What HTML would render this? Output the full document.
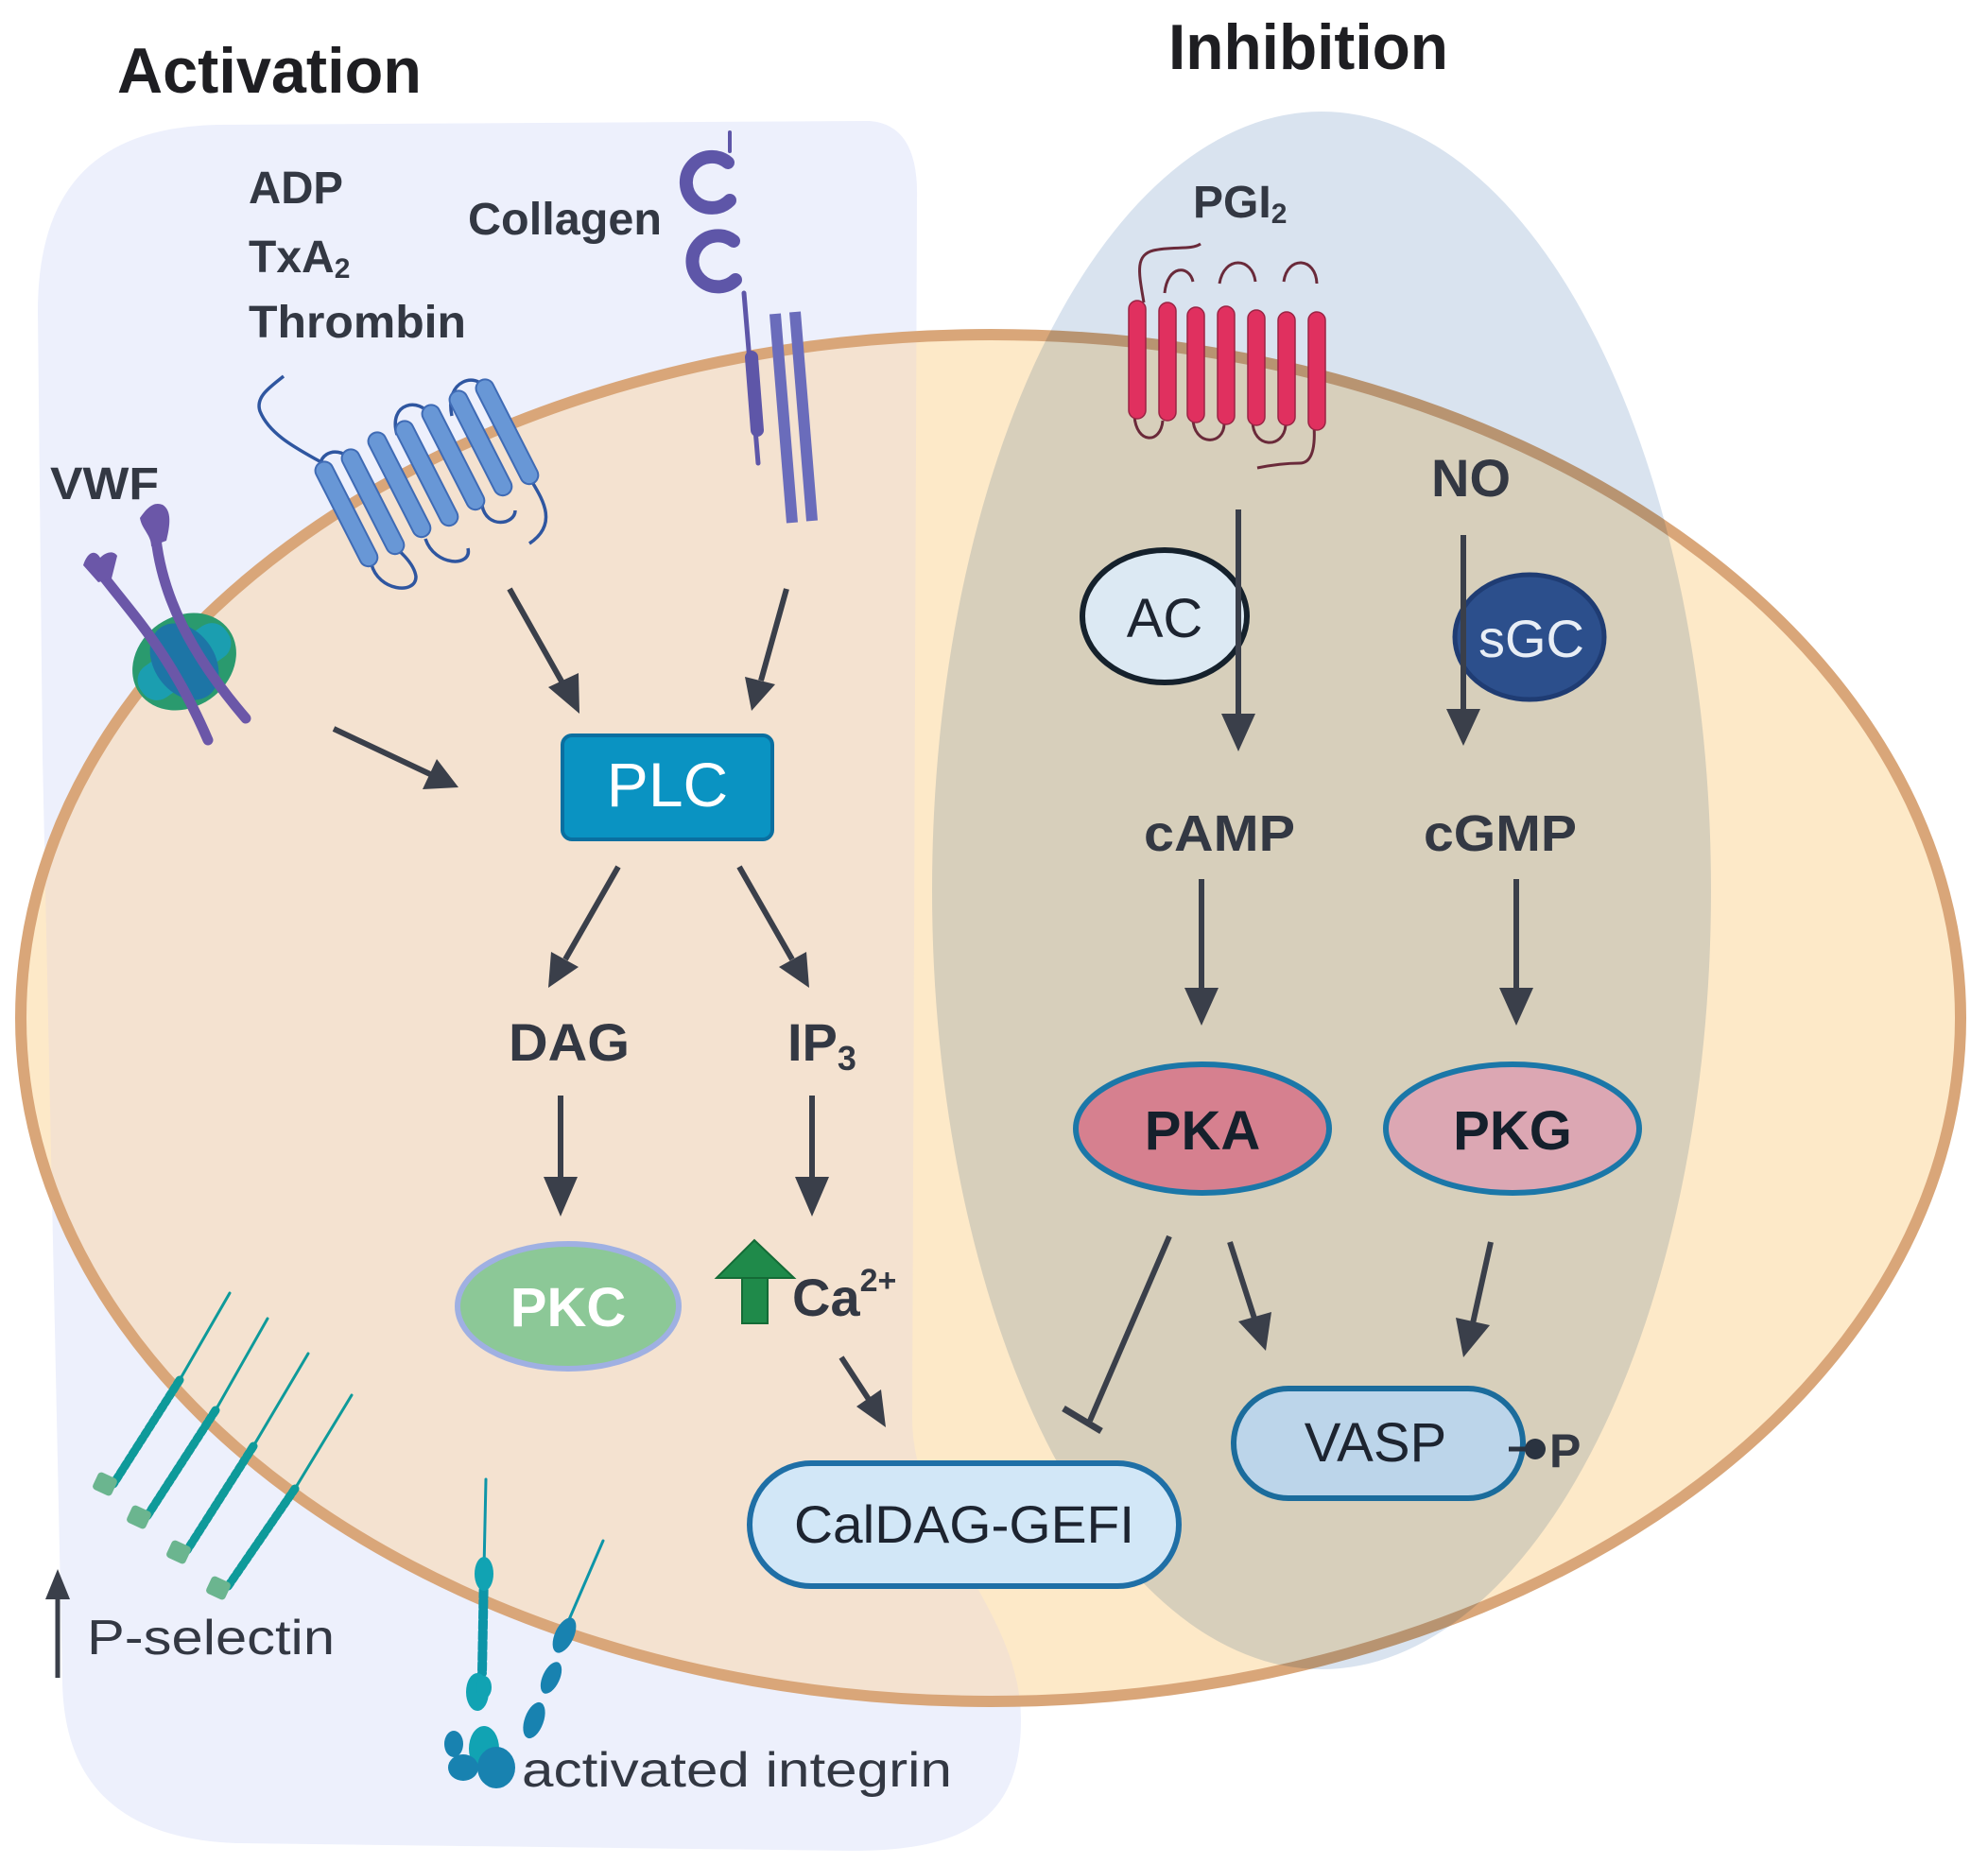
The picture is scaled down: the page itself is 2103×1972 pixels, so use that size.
<!DOCTYPE html>
<html><head><meta charset="utf-8"><style>
html,body{margin:0;padding:0;background:#fff}
svg{display:block}
text{font-family:"Liberation Sans",Arial,sans-serif}
</style></head><body>
<svg width="2103" height="1972" viewBox="0 0 2103 1972" xmlns="http://www.w3.org/2000/svg">
<defs>
<clipPath id="cellclip"><ellipse cx="1048" cy="1077" rx="1026" ry="723"/></clipPath>
</defs>
<rect width="2103" height="1972" fill="#fff"/>
<path d="M40,330 C40,190 110,135 230,132 L920,128 Q972,132 970,210 L965,1500 C965,1620 1080,1700 1080,1820 C1080,1925 1020,1958 900,1958 L250,1950 C120,1945 68,1880 66,1780 L45,800 Z" fill="#edf0fc"/>
<ellipse cx="1048" cy="1077" rx="1026" ry="723" fill="#fde9c8"/>
<path d="M40,330 C40,190 110,135 230,132 L920,128 Q972,132 970,210 L965,1500 C965,1620 1080,1700 1080,1820 C1080,1925 1020,1958 900,1958 L250,1950 C120,1945 68,1880 66,1780 L45,800 Z" fill="#f4e2d0" clip-path="url(#cellclip)"/>
<ellipse cx="1048" cy="1077" rx="1026" ry="723" fill="none" stroke="#d9a679" stroke-width="12"/>
<ellipse cx="1398" cy="942" rx="412" ry="824" fill="#d9e3ef" style="mix-blend-mode:multiply"/>

<text x="124" y="98" font-size="68" font-weight="bold" fill="#1e1e22" textLength="322" lengthAdjust="spacingAndGlyphs">Activation</text>
<text x="1236" y="73" font-size="68" font-weight="bold" fill="#1e1e22" textLength="296" lengthAdjust="spacingAndGlyphs">Inhibition</text>

<g fill="#333843" font-weight="bold" font-size="48">
<text x="263" y="215" textLength="100" lengthAdjust="spacingAndGlyphs">ADP</text>
<text x="263" y="288">TxA<tspan font-size="30" dy="6">2</tspan></text>
<text x="263" y="357" textLength="230" lengthAdjust="spacingAndGlyphs">Thrombin</text>
<text x="495" y="248" textLength="205" lengthAdjust="spacingAndGlyphs">Collagen</text>
<text x="53" y="528" textLength="115" lengthAdjust="spacingAndGlyphs">VWF</text>
<text x="1262" y="230">PGI<tspan font-size="30" dy="6">2</tspan></text>
<text x="1514" y="525" font-size="56">NO</text>
<text x="1210" y="900" font-size="54" textLength="160" lengthAdjust="spacingAndGlyphs">cAMP</text>
<text x="1506" y="900" font-size="54" textLength="162" lengthAdjust="spacingAndGlyphs">cGMP</text>
<text x="538" y="1122" font-size="56" textLength="128" lengthAdjust="spacingAndGlyphs">DAG</text>
<text x="833" y="1122" font-size="56">IP<tspan font-size="36" dy="10">3</tspan></text>
<text x="838" y="1392" font-size="56">Ca<tspan font-size="34" dy="-26">2+</tspan></text>
<text x="1639" y="1552" font-size="50">P</text>
</g>

<!-- GPCR blue -->
<g stroke="#2f56a0" stroke-width="3.5" fill="none">
<path d="M300,398 C285,410 270,420 275,435 C285,460 315,475 338,488"/>
<path d="M393,597 C400,625 440,630 440,610 C438,595 420,580 412,575"/>
<path d="M340,510 C330,480 355,470 370,485"/>
<path d="M450,570 C460,600 500,600 495,580"/>
<path d="M420,460 C410,425 445,420 455,440"/>
<path d="M510,535 C515,560 545,555 545,540"/>
<path d="M478,440 C470,400 505,395 512,410"/>
<path d="M563,510 C575,530 590,555 560,575"/>
</g>
<g fill="#6897d6" stroke="#3f6bb5" stroke-width="2">
<rect x="357" y="483" width="19" height="122" rx="9.5" transform="rotate(-27 366 544)"/>
<rect x="385" y="470" width="19" height="122" rx="9.5" transform="rotate(-27 394 531)"/>
<rect x="413" y="452" width="19" height="122" rx="9.5" transform="rotate(-27 422 513)"/>
<rect x="442" y="440" width="19" height="122" rx="9.5" transform="rotate(-27 451 501)"/>
<rect x="470" y="423" width="19" height="122" rx="9.5" transform="rotate(-27 479 484)"/>
<rect x="499" y="408" width="19" height="122" rx="9.5" transform="rotate(-27 508 469)"/>
<rect x="527" y="396" width="19" height="122" rx="9.5" transform="rotate(-27 536 457)"/>
</g>

<!-- Collagen -->
<g fill="none" stroke="#5e56a8" stroke-linecap="round">
<path d="M770,172 A27,27 0 1 0 772,212" stroke-width="14"/>
<path d="M776,255 A27,27 0 1 0 778,296" stroke-width="14"/>
<line x1="772" y1="140" x2="772" y2="160" stroke-width="4"/>
<line x1="787" y1="310" x2="802" y2="490" stroke-width="5"/>
<line x1="795" y1="378" x2="801" y2="455" stroke-width="14"/>
</g>
<g stroke="#6a6cbb" stroke-width="12">
<line x1="820" y1="332" x2="838" y2="553"/>
<line x1="841" y1="330" x2="859" y2="551"/>
</g>

<!-- VWF complex -->
<g transform="rotate(-35 195 700)">
<ellipse cx="195" cy="700" rx="58" ry="48" fill="#2a9a6e"/>
<rect x="140" y="680" width="110" height="40" rx="18" fill="#1b9eb0"/>
<ellipse cx="195" cy="700" rx="32" ry="44" fill="#1d75a6"/>
</g>
<g stroke="#6b57a8" stroke-width="11" stroke-linecap="round" fill="none">
<path d="M108,608 C140,650 180,690 220,783"/>
<path d="M165,570 C172,630 200,690 260,760"/>
</g>
<path d="M88,598 C92,585 100,580 106,590 C112,584 120,582 124,588 L118,612 L104,616 Z" fill="#6b57a8"/>
<path d="M148,548 C155,538 162,530 172,534 C182,540 180,556 176,572 L160,578 C160,566 150,560 148,548 Z" fill="#6b57a8"/>

<!-- PGI2 receptor -->
<g stroke="#6a2a3a" stroke-width="3" fill="none">
<path d="M1210,320 C1205,290 1200,270 1220,265 C1240,260 1260,265 1270,258"/>
<path d="M1232,310 C1235,280 1258,280 1262,298"/>
<path d="M1290,300 C1295,270 1325,272 1328,298"/>
<path d="M1358,298 C1362,270 1392,272 1393,300"/>
<path d="M1200,440 C1202,470 1228,470 1230,445"/>
<path d="M1262,442 C1262,472 1295,472 1295,448"/>
<path d="M1325,445 C1325,475 1358,475 1360,450"/>
<path d="M1390,450 C1392,480 1385,490 1375,490 C1360,490 1345,492 1330,495"/>
</g>
<g fill="#e0305f" stroke="#9a2444" stroke-width="1.5">
<rect x="1194" y="318" width="18" height="125" rx="9"/>
<rect x="1226" y="320" width="18" height="125" rx="9"/>
<rect x="1256" y="325" width="18" height="122" rx="9"/>
<rect x="1288" y="324" width="18" height="125" rx="9"/>
<rect x="1320" y="328" width="18" height="122" rx="9"/>
<rect x="1352" y="330" width="18" height="120" rx="9"/>
<rect x="1384" y="330" width="18" height="125" rx="9"/>
</g>

<!-- P-selectin -->
<g stroke="#0e9a9a" stroke-linecap="round">
<g stroke-width="3">
<line x1="243" y1="1368" x2="190" y2="1460"/>
<line x1="283" y1="1395" x2="228" y2="1492"/>
<line x1="326" y1="1432" x2="268" y2="1530"/>
<line x1="372" y1="1476" x2="312" y2="1575"/>
</g>
<g stroke-width="9" stroke-dasharray="5 3">
<line x1="190" y1="1460" x2="120" y2="1570"/>
<line x1="228" y1="1492" x2="155" y2="1605"/>
<line x1="268" y1="1530" x2="198" y2="1640"/>
<line x1="312" y1="1575" x2="240" y2="1680"/>
</g>
</g>
<g fill="#6bb58f">
<rect x="100" y="1560" width="22" height="20" rx="4" transform="rotate(25 111 1570)"/>
<rect x="136" y="1595" width="22" height="20" rx="4" transform="rotate(25 147 1605)"/>
<rect x="178" y="1632" width="22" height="20" rx="4" transform="rotate(25 189 1642)"/>
<rect x="220" y="1670" width="22" height="20" rx="4" transform="rotate(25 231 1680)"/>
</g>
<line x1="61" y1="1690" x2="61" y2="1775" stroke="#3a3f4a" stroke-width="5"/>
<polygon points="61,1660 48,1692 74,1692" fill="#3a3f4a"/>
<text x="92" y="1750" font-size="52" fill="#333843" textLength="262" lengthAdjust="spacingAndGlyphs">P-selectin</text>

<!-- integrin -->
<g stroke="#0d95a8" stroke-linecap="round" fill="none">
<line x1="514" y1="1565" x2="512" y2="1660" stroke-width="3"/>
<line x1="638" y1="1630" x2="600" y2="1718" stroke-width="3"/>
<line x1="512" y1="1660" x2="510" y2="1770" stroke-width="10" stroke-dasharray="8 3"/>
</g>
<g fill="#11a3b3">
<ellipse cx="512" cy="1665" rx="10" ry="18"/>
<ellipse cx="505" cy="1790" rx="12" ry="20"/>
<ellipse cx="512" cy="1785" rx="8" ry="12"/>
<ellipse cx="512" cy="1850" rx="16" ry="24"/>
</g>
<g fill="#1882b0">
<ellipse cx="597" cy="1730" rx="10" ry="20" transform="rotate(25 597 1730)"/>
<ellipse cx="583" cy="1775" rx="9" ry="18" transform="rotate(25 583 1775)"/>
<ellipse cx="565" cy="1820" rx="10" ry="20" transform="rotate(20 565 1820)"/>
<ellipse cx="525" cy="1870" rx="20" ry="22"/>
<ellipse cx="480" cy="1845" rx="10" ry="14"/>
<ellipse cx="490" cy="1870" rx="16" ry="14"/>
</g>
<text x="552" y="1890" font-size="52" fill="#333843" textLength="455" lengthAdjust="spacingAndGlyphs">activated integrin</text>

<rect x="595" y="778" width="222" height="110" rx="10" fill="#0a93c2" stroke="#0a6fa0" stroke-width="4"/>
<text x="706" y="853" font-size="66" fill="#fff" text-anchor="middle">PLC</text>

<ellipse cx="601" cy="1382" rx="117" ry="66" fill="#8cc897" stroke="#9fb0e2" stroke-width="6"/>
<text x="601" y="1403" font-size="58" font-weight="bold" fill="#fff" text-anchor="middle">PKC</text>

<polygon points="785,1350 812,1350 812,1400 785,1400" fill="#1f8a4a" stroke="#146b36" stroke-width="2"/>
<polygon points="758,1352 798,1312 840,1352" fill="#1f8a4a" stroke="#146b36" stroke-width="2"/>

<rect x="793" y="1548" width="454" height="130" rx="65" fill="#d2e7f7" stroke="#1f6fa6" stroke-width="6"/>
<text x="1020" y="1632" font-size="56" fill="#1d2430" text-anchor="middle" textLength="360" lengthAdjust="spacingAndGlyphs">CalDAG-GEFI</text>

<ellipse cx="1232" cy="652" rx="87" ry="70" fill="#dce9f3" stroke="#15212c" stroke-width="6"/>
<text x="1232" y="674" font-size="58" fill="#1d2430" text-anchor="middle">AC</text>
<ellipse cx="1618" cy="674" rx="79" ry="66" fill="#2c4f8c" stroke="#1f3c73" stroke-width="5"/>
<text x="1620" y="695" font-size="56" fill="#e8eef6" text-anchor="middle">sGC</text>

<ellipse cx="1272" cy="1194" rx="134" ry="68" fill="#d6808f" stroke="#1b77a8" stroke-width="6"/>
<text x="1272" y="1216" font-size="58" font-weight="bold" fill="#15202c" text-anchor="middle">PKA</text>
<ellipse cx="1600" cy="1194" rx="134" ry="68" fill="#dca7b3" stroke="#1b77a8" stroke-width="6"/>
<text x="1600" y="1216" font-size="58" font-weight="bold" fill="#15202c" text-anchor="middle">PKG</text>

<rect x="1305" y="1469" width="306" height="116" rx="58" fill="#bcd5ea" stroke="#1b6c9c" stroke-width="6"/>
<text x="1455" y="1546" font-size="58" fill="#1d2430" text-anchor="middle">VASP</text>
<line x1="1596" y1="1533" x2="1622" y2="1533" stroke="#2a3340" stroke-width="5"/>
<circle cx="1624" cy="1533" r="11" fill="#2a3340"/>

<g stroke="#3a3f4a" stroke-width="6" fill="none">
<line x1="539" y1="623" x2="597" y2="726"/>
<line x1="832" y1="623" x2="805" y2="720"/>
<line x1="353" y1="771" x2="455" y2="819"/>
<line x1="654" y1="917" x2="598" y2="1015"/>
<line x1="782" y1="917" x2="838" y2="1015"/>
<line x1="593" y1="1159" x2="593" y2="1250"/>
<line x1="859" y1="1159" x2="859" y2="1250"/>
<line x1="890" y1="1436" x2="920" y2="1482"/>
<line x1="1310" y1="539" x2="1310" y2="760"/>
<line x1="1548" y1="566" x2="1548" y2="755"/>
<line x1="1271" y1="930" x2="1271" y2="1050"/>
<line x1="1604" y1="930" x2="1604" y2="1050"/>
<line x1="1237" y1="1308" x2="1153" y2="1503"/>
<line x1="1301" y1="1314" x2="1328" y2="1398"/>
<line x1="1577" y1="1314" x2="1558" y2="1400"/>
<line x1="1125" y1="1490" x2="1165" y2="1514" stroke-width="7"/>
</g>
<g fill="#3a3f4a">
<polygon points="613,755 580,727 612,712"/>
<polygon points="795,752 788,716 820,724"/>
<polygon points="485,833 447,835 462,803"/>
<polygon points="580,1045 583,1007 612,1023"/>
<polygon points="856,1045 824,1023 853,1007"/>
<polygon points="593,1287 575,1245 611,1245"/>
<polygon points="859,1287 841,1245 877,1245"/>
<polygon points="937,1510 906,1488 932,1470"/>
<polygon points="1310,795 1292,755 1328,755"/>
<polygon points="1548,789 1530,750 1566,750"/>
<polygon points="1271,1085 1253,1045 1289,1045"/>
<polygon points="1604,1085 1586,1045 1622,1045"/>
<polygon points="1339,1429 1310,1398 1345,1388"/>
<polygon points="1548,1436 1540,1394 1576,1402"/>
</g>
</svg>
</body></html>
